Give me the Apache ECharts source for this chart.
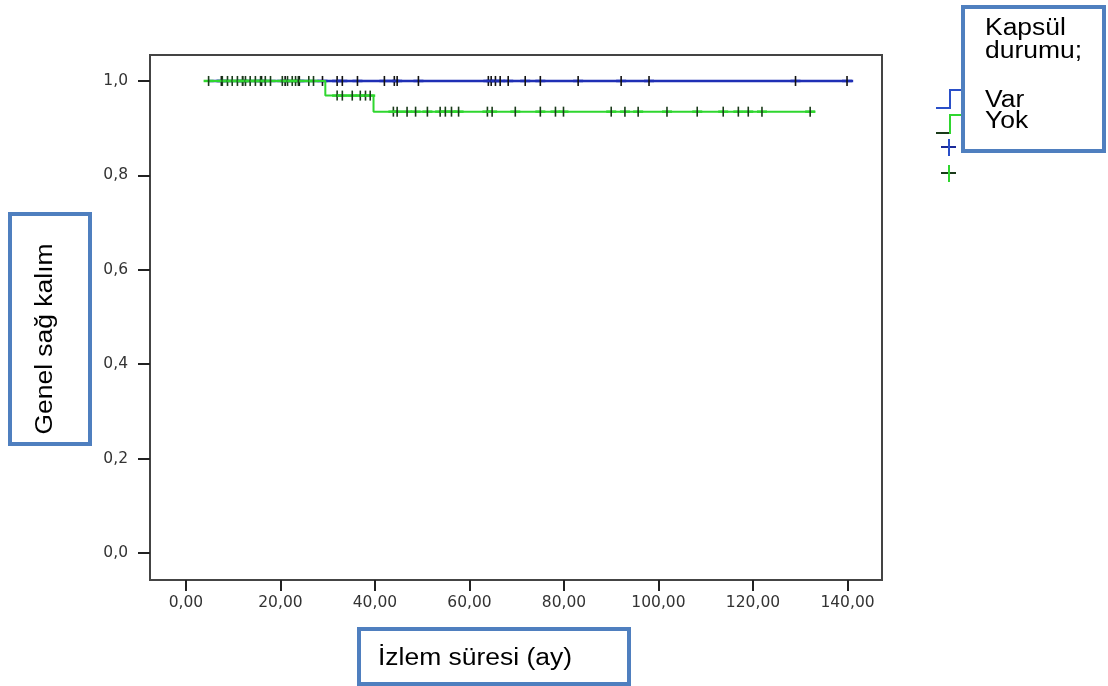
<!DOCTYPE html>
<html>
<head>
<meta charset="utf-8">
<script src="https://cdn.jsdelivr.net/npm/echarts@6/dist/echarts.min.js"></script>
<style>
  html, body { margin: 0; padding: 0; background: #fff; }
  #chart { width: 1108px; height: 686px; }
</style>
</head>
<body>
<div id="chart"></div>
<script>
// axis ticks
const xTicks = [0, 20, 40, 60, 80, 100, 120, 140];
const yTicks = [0, 0.2, 0.4, 0.6, 0.8, 1.0];

// Kaplan-Meier steps (time, survival)
const varTimes = [4.8, 141.2];
const varSurv = [1, 1];
const yokTimes = [4.8, 29.5, 39.7, 133.2];
const yokSurv = [1, 0.969, 0.935, 0.935];

// censored cases
const varCensor = [7.5, 12, 16, 21, 24, 28.9, 32.0, 33.1, 36.3, 42.0, 44.1, 44.7, 49.2,
  64.0, 64.6, 65.5, 66.5, 68.2, 71.8, 75.0, 83.0, 92.1, 98.0, 129.0, 139.9];
const yokCensor1 = [4.8, 7.7, 8.8, 9.8, 10.9, 12, 12.6, 13.6, 14.7, 15.8, 16.8, 17.9,
  20.4, 21.5, 22.5, 23.2, 23.8, 26, 27];
const yokCensor2 = [32, 33.1, 35.2, 36.9, 38, 39];
const yokCensor3 = [43.9, 44.7, 46.8, 48.6, 51.1, 53.8, 54.9, 56.2, 57.7, 63.8, 64.8, 69.7,
  75.0, 78.2, 79.9, 90.0, 92.9, 95.7, 101.8, 108.2, 113.7, 116.9, 119.0, 121.9, 132.1];
const yokLevels = [1, 0.969, 0.935];

const BLUE = "#1f2fb5";
const GREEN = "#2fd62f";
const BOXBLUE = "#4f7fbf";

const pairs = (xs, ys) => xs.map((x, i) => [x, ys[i]]);
const censorPts = (xs, y) => xs.map((x) => [x, y]);

function plusMark(color, vcolor) {
  return function (params, api) {
    const p = api.coord([api.value(0), api.value(1)]);
    return {
      type: "group",
      children: [
        { type: "line", shape: { x1: p[0] - 5, y1: p[1], x2: p[0] + 5, y2: p[1] },
          style: { stroke: color, lineWidth: 2.5 } },
        { type: "line", shape: { x1: p[0], y1: p[1] - 5, x2: p[0], y2: p[1] + 5 },
          style: { stroke: vcolor, lineWidth: 1.6 } },
      ],
    };
  };
}

const chart = echarts.init(document.getElementById("chart"));

const labelFont = { fontFamily: "DejaVu Sans", fontSize: 15.5, color: "#333" };
const boxText = { fontFamily: "Liberation Sans", fontSize: 23, fill: "#000" };

let option = {
  animation: false,
  backgroundColor: "#fff",
  grid: {
    left: 150, right: 226, top: 55, bottom: 106,
    show: true, borderColor: "#444", borderWidth: 2,
  },
  xAxis: {
    type: "value",
    min: -7.6,
    max: 147.3,
    axisLine: { show: true, onZero: false, lineStyle: { color: "#444", width: 2 } },
    axisTick: { show: true, customValues: xTicks, length: 11, lineStyle: { color: "#222", width: 2 } },
    axisLabel: {
      customValues: xTicks, margin: 15, ...labelFont,
      formatter: (v) => v.toFixed(2).replace(".", ","),
    },
    splitLine: { show: false },
  },
  yAxis: {
    type: "value",
    min: -0.057,
    max: 1.055,
    axisLine: { show: true, onZero: false, lineStyle: { color: "#444", width: 2 } },
    axisTick: { show: true, customValues: yTicks, length: 12, lineStyle: { color: "#222", width: 2 } },
    axisLabel: {
      customValues: yTicks, margin: 22, ...labelFont,
      formatter: (v) => v.toFixed(1).replace(".", ","),
    },
    splitLine: { show: false },
  },
  series: [
    {
      name: "Var", type: "line", step: "end", symbol: "none",
      data: pairs(varTimes, varSurv),
      lineStyle: { color: BLUE, width: 2.5 }, z: 2,
    },
    {
      name: "Var censored", type: "custom",
      data: censorPts(varCensor, 1),
      renderItem: plusMark(BLUE, "#111"), z: 3,
    },
    {
      name: "Yok", type: "line", step: "end", symbol: "none",
      data: pairs(yokTimes, yokSurv),
      lineStyle: { color: GREEN, width: 2 }, z: 4,
    },
    {
      name: "Yok censored", type: "custom",
      data: censorPts(yokCensor1, yokLevels[0])
        .concat(censorPts(yokCensor2, yokLevels[1]))
        .concat(censorPts(yokCensor3, yokLevels[2])),
      renderItem: plusMark(GREEN, "#1a3a1a"), z: 5,
    },
  ],
  graphic: [
    // legend icons
    { type: "polyline", shape: { points: [[936, 108], [950, 108], [950, 90], [964, 90]] },
      style: { stroke: "#2a4fc8", lineWidth: 2, fill: null } },
    { type: "polyline", shape: { points: [[936, 133], [950, 133], [950, 115], [964, 115]] },
      style: { stroke: GREEN, lineWidth: 2, fill: null } },
    { type: "line", shape: { x1: 936, y1: 133, x2: 949, y2: 133 }, style: { stroke: "#1a3a1a", lineWidth: 2 } },
    { type: "line", shape: { x1: 941, y1: 147, x2: 956, y2: 147 }, style: { stroke: "#1a2a9a", lineWidth: 2 } },
    { type: "line", shape: { x1: 949, y1: 139, x2: 949, y2: 156 }, style: { stroke: "#2a4fc8", lineWidth: 2 } },
    { type: "line", shape: { x1: 941, y1: 173, x2: 956, y2: 173 }, style: { stroke: "#1a3a1a", lineWidth: 2 } },
    { type: "line", shape: { x1: 949, y1: 165, x2: 949, y2: 182 }, style: { stroke: GREEN, lineWidth: 2 } },
    // legend box
    { type: "rect", shape: { x: 963, y: 7, width: 141, height: 144 },
      style: { fill: "#fff", stroke: BOXBLUE, lineWidth: 4 }, z: 10 },
    { type: "text", x: 985, y: 17, scaleX: 1.15, z: 11,
      style: { text: "Kapsül\ndurumu;", lineHeight: 23, ...boxText } },
    { type: "text", x: 985, y: 90, scaleX: 1.15, z: 11,
      style: { text: "Var\nYok", lineHeight: 21, ...boxText } },
    // y axis title box
    { type: "rect", shape: { x: 10, y: 214, width: 80, height: 230 },
      style: { fill: "#fff", stroke: BOXBLUE, lineWidth: 4 }, z: 10 },
    { type: "text", x: 46, y: 339, rotation: Math.PI / 2, scaleX: 1.15, z: 11,
      style: { text: "Genel sağ kalım", align: "center", verticalAlign: "middle", ...boxText } },
    // x axis title box
    { type: "rect", shape: { x: 359, y: 629, width: 270, height: 55 },
      style: { fill: "#fff", stroke: BOXBLUE, lineWidth: 4 }, z: 10 },
    { type: "text", x: 378, y: 659, scaleX: 1.15, z: 11,
      style: { text: "İzlem süresi (ay)", verticalAlign: "middle", ...boxText } },
  ],
};

chart.setOption(option);
</script>
</body>
</html>
